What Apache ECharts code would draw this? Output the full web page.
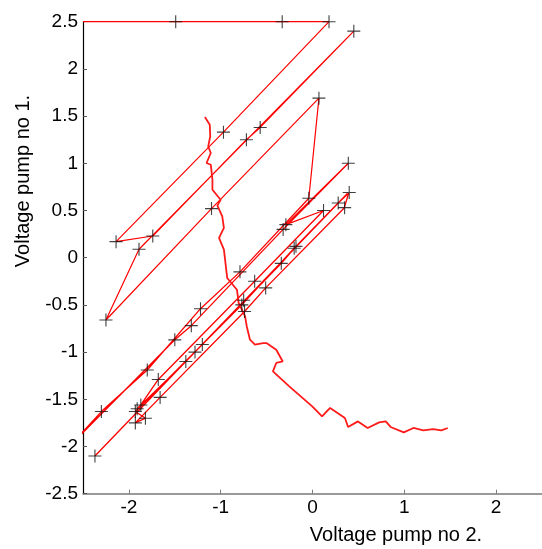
<!DOCTYPE html>
<html><head><meta charset="utf-8">
<script src="https://cdn.jsdelivr.net/npm/echarts@6/dist/echarts.min.js"></script>
<style>html,body{margin:0;padding:0;background:#fff}#c{width:542px;height:549px}</style>
</head><body><div id="c"></div>
<script>
const xTicks = [-2, -1, 0, 1, 2];
const yTicks = [-2.5, -2, -1.5, -1, -0.5, 0, 0.5, 1, 1.5, 2, 2.5];
const xTitle = 'Voltage pump no 2.';
const yTitle = 'Voltage pump no 1.';

// stepped path (x = pump 2, y = pump 1), in drawing order
const stepPathUpper = [
  [-2.5, 2.5], [-1.49, 2.5], [-0.33, 2.5], [0.18, 2.5], [-0.97, 1.33], [-2.14, 0.17],
  [-1.74, 0.23], [-0.72, 1.25], [-0.57, 1.38], [0.45, 2.40], [-1.89, 0.09], [-2.25, -0.66],
  [-1.10, 0.52], [0.07, 1.69], [-0.04, 0.63]
];
const stepPathLower = [
  [-0.04, 0.63], [-0.79, -0.15], [-1.22, -0.54], [-1.80, -1.19], [-2.30, -1.63], [-2.6, -1.95],
  [-1.50, -0.87], [-1.32, -0.72], [-0.32, 0.30], [0.39, 1.00],
  [-0.29, 0.35], [0.12, 0.50], [-0.63, -0.25], [-1.68, -1.29], [-1.87, -1.56],
  [-1.91, -1.60], [-1.38, -1.10], [-1.28, -1.00], [-0.34, -0.06], [-0.18, 0.12],
  [0.28, 0.58], [0.395, 0.685],
  [0.345, 0.526], [-0.51, -0.32], [-0.74, -0.57], [-1.66, -1.48], [-1.93, -1.75], [-1.82, -1.70],
  [-1.93, -1.63], [-1.20, -0.92], [-0.77, -0.50], [-0.20, 0.10], [0.38, 0.68], [-2.37, -2.10]
];
// sampled points (black crosses)
const samplePoints = [
  [-1.49, 2.50], [-0.33, 2.50], [0.18, 2.50], [0.45, 2.40], [0.07, 1.69], [-0.97, 1.33],
  [-0.72, 1.25], [-0.57, 1.38], [-1.10, 0.52], [-2.14, 0.17], [-1.74, 0.23], [-1.89, 0.09],
  [-2.25, -0.66], [0.39, 1.00], [-0.04, 0.63], [0.12, 0.50], [-0.29, 0.35], [-0.32, 0.30],
  [0.28, 0.58], [0.35, 0.53], [0.40, 0.69], [-0.20, 0.10], [-0.18, 0.12], [-0.79, -0.15],
  [-0.63, -0.25], [-0.51, -0.32], [-0.34, -0.06], [-1.22, -0.54], [-1.32, -0.72], [-0.77, -0.50],
  [-0.74, -0.57], [-0.75, -0.45], [-1.20, -0.92], [-1.50, -0.87], [-1.80, -1.19], [-1.28, -1.00],
  [-1.38, -1.10], [-1.68, -1.29], [-1.66, -1.48], [-1.87, -1.56], [-1.91, -1.60], [-1.93, -1.63],
  [-1.82, -1.70], [-1.93, -1.75], [-2.30, -1.63], [-2.37, -2.10]
];
// continuous drifting trace
const driftCurve = [
  [-1.172, 1.490], [-1.119, 1.409], [-1.114, 1.285], [-1.136, 1.179], [-1.108, 1.109],
  [-1.154, 1.003], [-1.108, 0.985], [-1.090, 0.826], [-1.090, 0.720], [-1.001, 0.614],
  [-1.036, 0.551], [-0.983, 0.437], [-0.965, 0.315], [-1.018, 0.209], [-0.965, 0.085],
  [-0.929, -0.215], [-0.823, -0.339], [-0.804, -0.480], [-0.734, -0.622], [-0.716, -0.728],
  [-0.681, -0.869], [-0.627, -0.922], [-0.537, -0.904], [-0.502, -0.904], [-0.395, -0.975],
  [-0.324, -1.099], [-0.395, -1.115], [-0.431, -1.204], [-0.253, -1.363], [-0.003, -1.575],
  [0.104, -1.681], [0.192, -1.592], [0.353, -1.698], [0.388, -1.793], [0.495, -1.734],
  [0.601, -1.804], [0.726, -1.745], [0.798, -1.734], [0.851, -1.793], [0.994, -1.851],
  [1.100, -1.804], [1.207, -1.829], [1.314, -1.815], [1.403, -1.829], [1.474, -1.804]
];

const FONT = 'Liberation Sans';
const chart = echarts.init(document.getElementById('c'), null, {renderer: 'canvas'});
chart.setOption({
  animation: false,
  backgroundColor: '#fff',
  grid: {left: 83, top: 21.7, width: 468, height: 472, containLabel: false},
  xAxis: {
    type: 'value', min: -2.5, max: 2.5,
    splitLine: {show: false},
    axisLine: {show: true, onZero: false, lineStyle: {color: '#7a7a7a', width: 1.5}},
    axisTick: {show: true, inside: true, length: 4, customValues: xTicks, lineStyle: {color: '#7a7a7a'}},
    axisLabel: {customValues: xTicks, color: '#000', fontFamily: FONT, fontSize: 19, margin: 5}
  },
  yAxis: {
    type: 'value', min: -2.5, max: 2.5,
    splitLine: {show: false},
    axisLine: {show: true, onZero: false, lineStyle: {color: '#000', width: 1.2}},
    axisTick: {show: true, inside: true, length: 4, customValues: yTicks, lineStyle: {color: '#555'}},
    axisLabel: {customValues: yTicks, color: '#000', fontFamily: FONT, fontSize: 19, margin: 5}
  },
  graphic: [
    {type: 'text', x: 396, y: 535, style: {text: xTitle, font: '20px ' + FONT, fill: '#000', textAlign: 'center', textVerticalAlign: 'middle'}},
    {type: 'text', x: 23, y: 181, rotation: Math.PI / 2, style: {text: yTitle, font: '20px ' + FONT, fill: '#000', textAlign: 'center', textVerticalAlign: 'middle'}}
  ],
  series: [
    {type: 'line', data: stepPathUpper, showSymbol: false, clip: true, lineStyle: {color: '#ff0000', width: 1.2}, z: 2},
    {type: 'line', data: stepPathLower, showSymbol: false, clip: true, lineStyle: {color: '#ff0000', width: 1.3}, z: 2},
    {type: 'line', data: driftCurve, showSymbol: false, clip: true, lineStyle: {color: '#ff1a1a', width: 1.8}, z: 2},
    {type: 'scatter', data: samplePoints, symbol: 'path://M0,6H12M6,0V12', symbolSize: 13,
     itemStyle: {color: 'transparent', borderColor: '#111', borderWidth: 1.1}, z: 5}
  ]
});
</script>
</body></html>
